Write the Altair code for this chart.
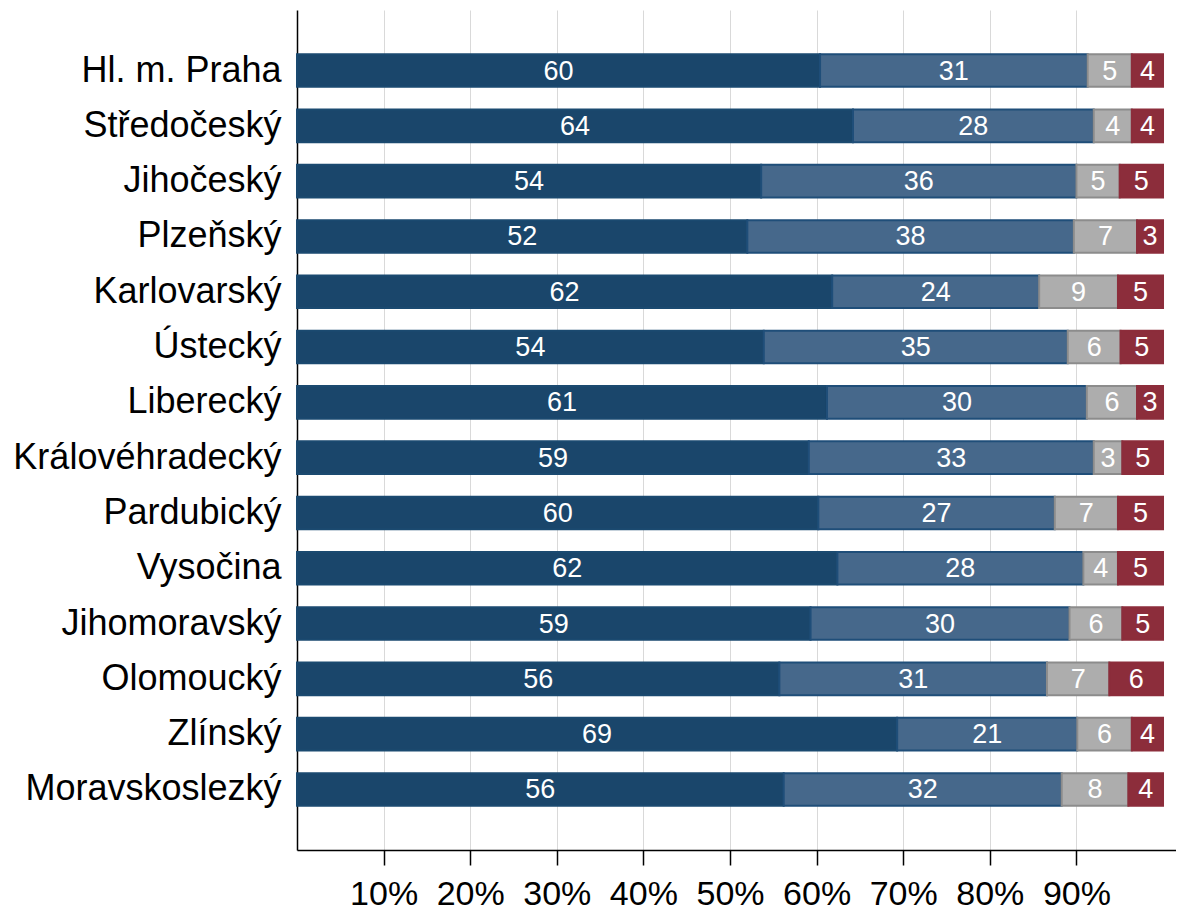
import altair as alt
import pandas as pd

regions = ["Hl. m. Praha", "Středočeský", "Jihočeský", "Plzeňský", "Karlovarský",
           "Ústecký", "Liberecký", "Královéhradecký", "Pardubický", "Vysočina",
           "Jihomoravský", "Olomoucký", "Zlínský", "Moravskoslezký"]
series = ["s1", "s2", "s3", "s4"]
s1 = [60.4, 64.2, 53.6, 52.0, 61.8, 53.9, 61.2, 59.1, 60.2, 62.4, 59.3, 55.7, 69.3, 56.2]
s2 = [30.9, 27.8, 36.4, 37.7, 23.9, 35.1, 30.0, 32.9, 27.3, 28.4, 29.9, 30.9, 20.8, 32.1]
s3 = [5.1, 4.4, 5.0, 7.3, 9.1, 6.1, 5.8, 3.3, 7.3, 4.0, 6.1, 7.2, 6.3, 7.7]
s4 = [3.6, 3.6, 5.0, 3.0, 5.2, 4.9, 3.0, 4.7, 5.2, 5.2, 4.7, 6.2, 3.6, 4.0]
tick_values = [10, 20, 30, 40, 50, 60, 70, 80, 90]

fills = ["#1a466b", "#46688b", "#adadad", "#8c2d3b"]
strokes = ["#1b4a70", "#1f4e79", "#8c8c8c", "#8c2d3b"]

rows = []
for i, r in enumerate(regions):
    for k, vals in enumerate([s1, s2, s3, s4]):
        rows.append({"region": r, "series": series[k], "order": k, "value": vals[i]})
df = pd.DataFrame(rows)

FONT = "Liberation Sans"

base = alt.Chart(df).transform_stack(
    stack="value", groupby=["region"], sort=[alt.SortField("order")], as_=["x0", "x1"]
).transform_calculate(mid="(datum.x0 + datum.x1) / 2")

y_enc = alt.Y("region:N", sort=regions, title=None,
              scale=alt.Scale(paddingInner=0.41, paddingOuter=0.8),
              axis=alt.Axis(labelFontSize=36, labelColor="black", labelFont=FONT,
                            ticks=False, labelPadding=16, domainColor="black",
                            domainWidth=1.5, labelLimit=400))

bars = base.mark_bar(strokeWidth=2).encode(
    x=alt.X("x0:Q", title=None,
            scale=alt.Scale(domain=[0, 101.5], nice=False, zero=True),
            axis=alt.Axis(values=tick_values, labelExpr="datum.value + '%'",
                          labelFontSize=34, labelFont=FONT, labelColor="black",
                          grid=True, gridColor="#d9d9d9", gridWidth=1,
                          tickColor="black", tickSize=15, tickWidth=1.5,
                          labelPadding=12, domainColor="black", domainWidth=1.5)),
    x2="x1:Q",
    y=y_enc,
    color=alt.Color("series:N", scale=alt.Scale(domain=series, range=fills), legend=None),
    stroke=alt.Stroke("series:N", scale=alt.Scale(domain=series, range=strokes), legend=None),
)

labels = base.mark_text(color="white", fontSize=27, font=FONT, baseline="middle",
                        align="center", dy=1).encode(
    x="mid:Q",
    y=alt.Y("region:N", sort=regions),
    text=alt.Text("value:Q", format=".0f"),
)

chart = alt.layer(bars, labels).properties(
    width=879, height=840,
    autosize=alt.AutoSizeParams(type="none"),
    padding={"left": 289, "top": 2, "right": 0, "bottom": 62},
).configure_view(stroke=None)

chart.save("out.html", embed_options={"renderer": "svg", "actions": False})
